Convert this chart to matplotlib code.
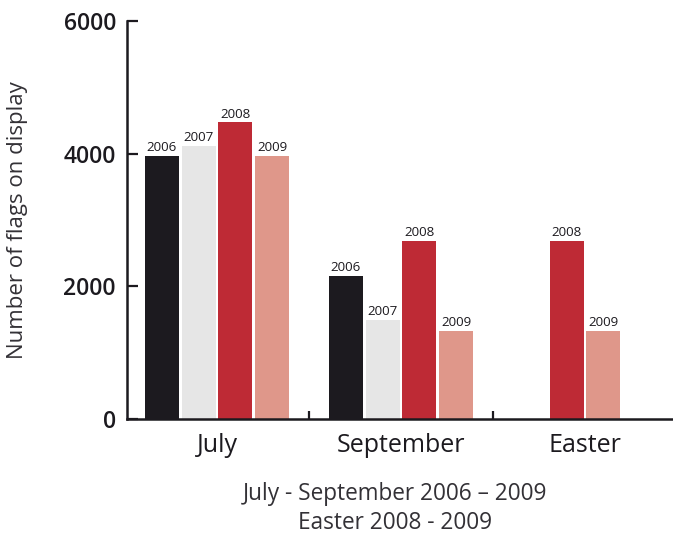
import numpy as np
import matplotlib.pyplot as plt

plt.rcParams['font.family'] = ['Open Sans', 'DejaVu Sans']

categories = ['July', 'September', 'Easter']
years = ['2006', '2007', '2008', '2009']
# flags counted per year, NaN = not counted
flags_2006 = [3960, 2160, np.nan]
flags_2007 = [4120, 1500, np.nan]
flags_2008 = [4470, 2690, 2690]
flags_2009 = [3960, 1320, 1320]
yticks = [0, 2000, 4000, 6000]

colors = ['#1c1a1f', '#e6e6e6', '#be2a35', '#df978a']
ink = '#1c1a1f'
soft = '#333136'

series = [flags_2006, flags_2007, flags_2008, flags_2009]

fig = plt.figure(figsize=(6.73, 5.38), dpi=100)
ax = fig.add_axes([127/673, 1-419/538, 546/673, 398/538])

step = 0.2
width = 0.185
for c in range(len(categories)):
    present = [k for k in range(len(years)) if not np.isnan(series[k][c])]
    n = len(present)
    for j, k in enumerate(present):
        x = c + (j - (n - 1) / 2) * step
        v = series[k][c]
        ax.bar(x, v, width=width, color=colors[k], linewidth=0)
        ax.text(x, v + 30, years[k], ha='center', va='bottom',
                fontsize=9.6, color=ink)

ax.set_xlim(-0.489, 2.478)
ax.set_ylim(0, 6000)
ax.set_yticks(yticks)
ax.set_yticklabels([str(t) for t in yticks], fontsize=16.5, fontweight='semibold', color=ink)
ax.set_xticks(range(len(categories)))
ax.set_xticklabels(categories, fontsize=18, color=ink)
ax.set_xticks([0.5, 1.5], minor=True)

ax.tick_params(axis='y', direction='in', length=8, width=1.6, pad=8, color=ink)
ax.tick_params(axis='x', which='major', length=0, pad=10)
ax.tick_params(axis='x', which='minor', direction='in', length=6, width=1.6, color=ink)

for s in ['top', 'right']:
    ax.spines[s].set_visible(False)
for s in ['left', 'bottom']:
    ax.spines[s].set_linewidth(1.8)
    ax.spines[s].set_color(ink)

fig.text(18/673, 1-220/538, 'Number of flags on display', rotation=90,
         ha='center', va='center', fontsize=16, color=soft)
fig.text(395/673, 1-494/538, 'July - September 2006 \u2013 2009', ha='center', va='center',
         fontsize=16.3, color=soft)
fig.text(395/673, 1-523/538, 'Easter 2008 - 2009', ha='center', va='center',
         fontsize=16.3, color=soft)

fig.savefig('out.png', dpi=100)
